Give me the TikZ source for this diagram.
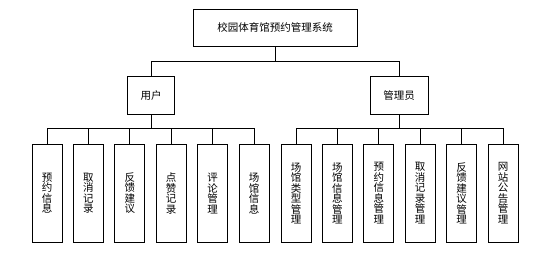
\documentclass[tikz,border=0pt]{standalone}
\usepackage{fontspec}
\newfontfamily\cjk{Noto Sans CJK SC}
\begin{document}
\begin{tikzpicture}[x=1pt,y=-1pt,
  box/.style={draw, line width=0.8pt, inner sep=0pt, align=center,
    font=\cjk\fontsize{10.5}{10.5}\selectfont},
  leaf/.style={box, minimum width=30pt, minimum height=98pt},
  conn/.style={line width=0.8pt}]
\useasboundingbox (0,0) rectangle (550,257);
\node[box, minimum width=164pt, minimum height=37pt] (root) at (275,27.7) {校园体育馆预约管理系统};
\node[box, minimum width=47pt, minimum height=37.7pt] (user) at (151,95.2) {用户};
\node[box, minimum width=58pt, minimum height=37.7pt] (admin) at (399,95.2) {管理员};
\foreach \t [count=\i] in {预\\约\\信\\息, 取\\消\\记\\录, 反\\馈\\建\\议, 点\\赞\\记\\录, 评\\论\\管\\理, 场\\馆\\信\\息}{
  \node[leaf] (l\i) at ({47+41.4*(\i-1)},193.3) {\t};
  \draw[conn] (user.south) -- ++(0,14.3) -| (l\i.north);
}
\foreach \t [count=\i] in {场\\馆\\类\\型\\管\\理, 场\\馆\\信\\息\\管\\理, 预\\约\\信\\息\\管\\理, 取\\消\\记\\录\\管\\理, 反\\馈\\建\\议\\管\\理, 网\\站\\公\\告\\管\\理}{
  \node[leaf] (r\i) at ({296+41.4*(\i-1)},193.3) {\t};
  \draw[conn] (admin.south) -- ++(0,14.3) -| (r\i.north);
}
\draw[conn] (root.south) -- ++(0,14.7) -| (user.north);
\draw[conn] (root.south) -- ++(0,14.7) -| (admin.north);
\end{tikzpicture}
\end{document}
